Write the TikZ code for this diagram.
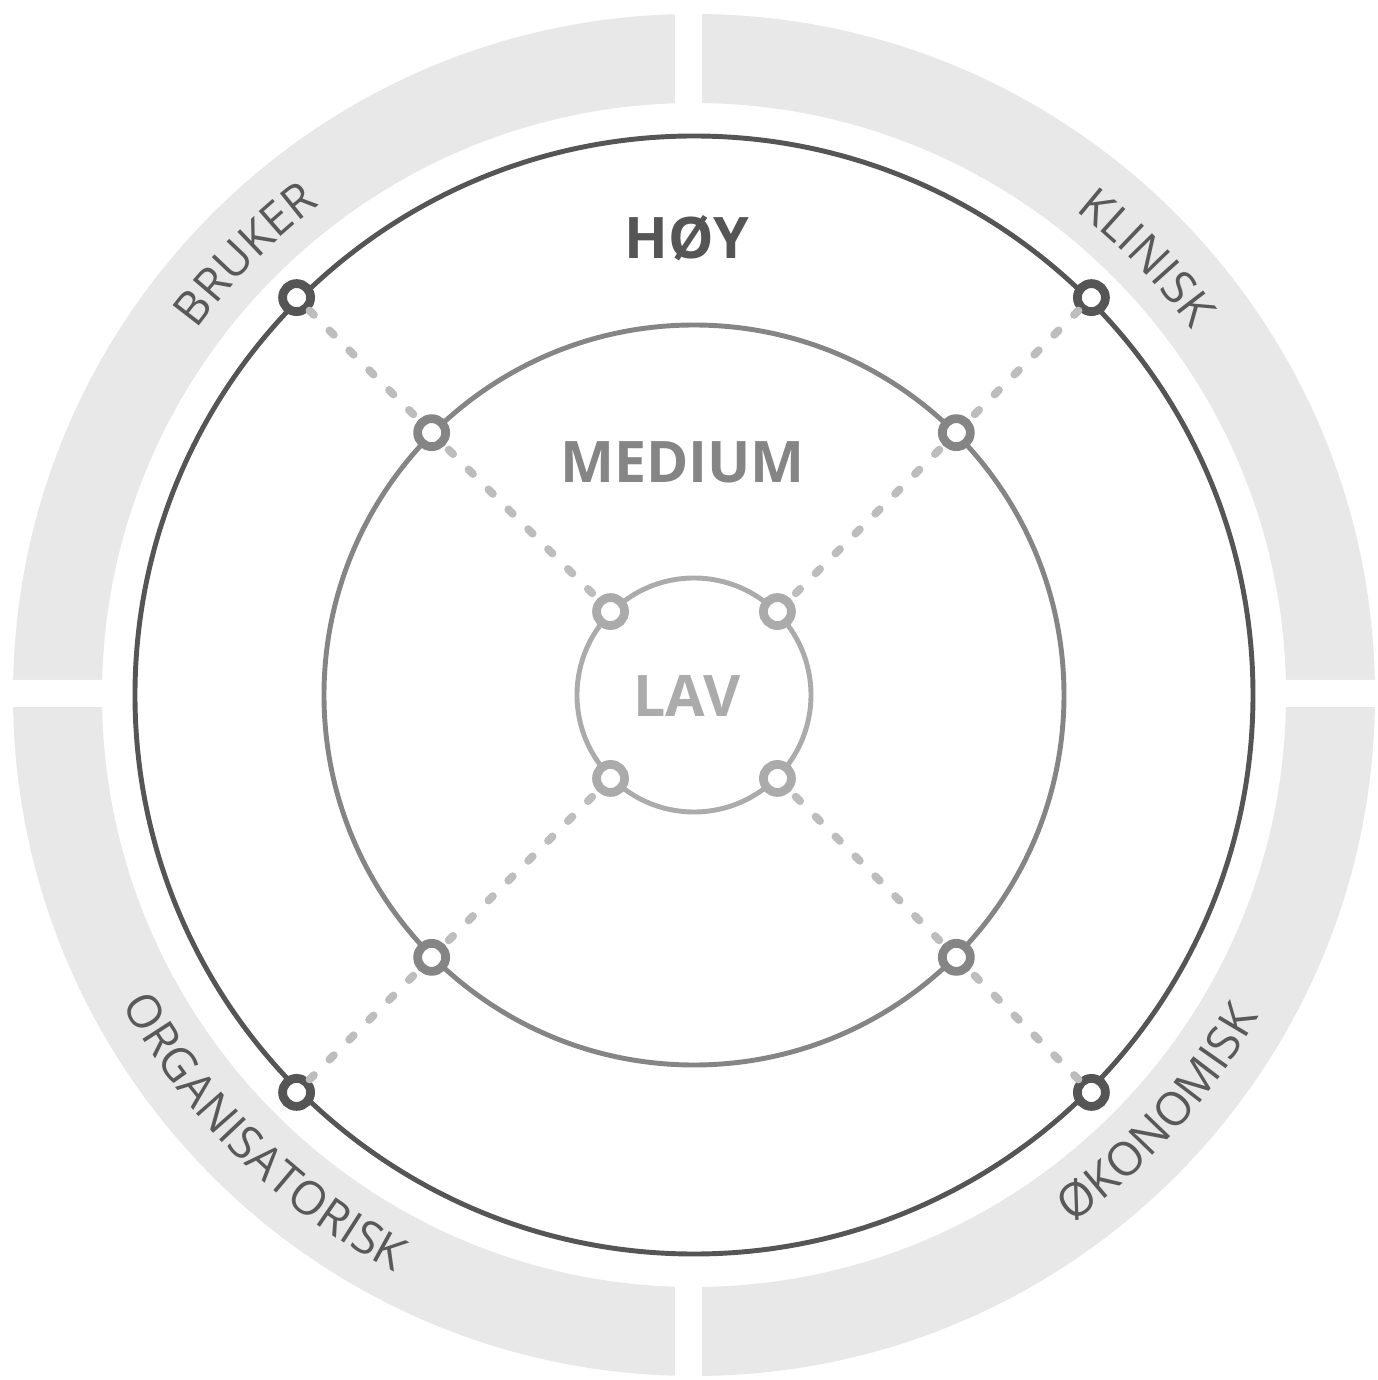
\documentclass[tikz,border=0pt]{standalone}
\usepackage{fontspec}
\setmainfont{Open Sans}
\usepackage{xcolor}
\usepackage{tikz}
\usetikzlibrary{decorations.text}

\definecolor{bandgray}{HTML}{E8E8E8}
\definecolor{hoygray}{HTML}{555555}
\definecolor{medgray}{HTML}{858585}
\definecolor{lavgray}{HTML}{ABABAB}
\definecolor{dotgray}{HTML}{BDBDBD}
\definecolor{labelgray}{HTML}{595959}
\newcommand{\bandfont}{\fontsize{13.2}{15}\selectfont\color{labelgray}}

\tikzset{
	ring/.style={line width=1.4pt},
	knob/.style={circle, draw, fill=white, line width=2.5pt, minimum size=0.28cm, inner sep=0pt},
	dotline/.style={draw=dotgray, line width=2.3pt, line cap=round, dash pattern=on 1.7pt off 6.3pt},
	level/.style={anchor=base, font=\fontsize{16.3}{18}\selectfont\bfseries}
}

\begin{document}
\begin{tikzpicture}
	
		\useasboundingbox (-6.94,-6.85) rectangle (6.83,6.95);
		\fill[bandgray, even odd rule] (0,0) circle (6.81) (0,0) circle (5.92);
		\fill[white] (-0.19,5.5) rectangle (0.08,7) (-0.19,-5.5) rectangle (0.08,-7);
		\fill[white] (-7,0.15) rectangle (-5.5,-0.12) (5.5,0.15) rectangle (7,-0.12);
		
		\path[decorate, decoration={text along path, text align=center, text={|\bandfont|BRUKER}}] (165.5:6.17) arc[start angle=165.5, end angle=105.5, radius=6.17];
		\path[decorate, decoration={text along path, text align=center, text={|\bandfont|KLINISK}}] (74:6.17) arc[start angle=74, end angle=14, radius=6.17];
		\path[decorate, decoration={text along path, text align=center, text={|\bandfont|ORGANISATORISK}}] (185.5:6.5) arc[start angle=185.5, end angle=265.5, radius=6.5];
		\path[decorate, decoration={text along path, text align=center, text={|\bandfont|ØKONOMISK}}] (-82:6.5) arc[start angle=-82, end angle=-2, radius=6.5];
		
		\draw[ring, hoygray] (0,0) circle (5.59);
		\draw[ring, medgray] (0,0) circle (3.70);
		\draw[ring, lavgray] (0,0) circle (1.17);
		
		\node[level, text=hoygray] (hoy) at (-0.07,4.36) {HØY};
		\node[level, text=medgray] (medium) at (-0.115,2.12) {MEDIUM};
		\node[level, text=lavgray] (lav) at (-0.07,-0.22) {LAV};
		
		\node[knob, draw=hoygray] (hoyNW) at (135:5.62) {};
		\node[knob, draw=hoygray] (hoyNE) at (45:5.62) {};
		\node[knob, draw=hoygray] (hoySW) at (225:5.62) {};
		\node[knob, draw=hoygray] (hoySE) at (-45:5.62) {};
		\node[knob, draw=lavgray] (lavNW) at (135:1.18) {};
		\node[knob, draw=lavgray] (lavNE) at (45:1.18) {};
		\node[knob, draw=lavgray] (lavSW) at (225:1.18) {};
		\node[knob, draw=lavgray] (lavSE) at (-45:1.18) {};
		
		\draw[dotline] (hoyNW) -- (lavNW);
		\draw[dotline] (hoyNE) -- (lavNE);
		\draw[dotline] (hoySW) -- (lavSW);
		\draw[dotline] (hoySE) -- (lavSE);
		
		\node[knob, draw=medgray] (medNW) at (135:3.71) {};
		\node[knob, draw=medgray] (medNE) at (45:3.71) {};
		\node[knob, draw=medgray] (medSW) at (225:3.71) {};
		\node[knob, draw=medgray] (medSE) at (-45:3.71) {};
	\end{tikzpicture}
\end{document}
